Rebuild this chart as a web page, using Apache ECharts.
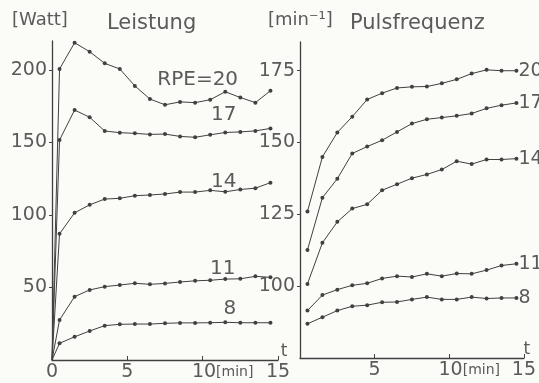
<!DOCTYPE html>
<html>
<head>
<meta charset="utf-8">
<script src="https://cdn.jsdelivr.net/npm/echarts@6/dist/echarts.min.js"></script>
<style>
  html, body { margin: 0; padding: 0; background: #fbfbf8; }
  #chart { width: 539px; height: 383px; }
</style>
</head>
<body>
<div id="chart"></div>
<script>
// time of each measurement (min)
const minutes = [0.5, 1.5, 2.5, 3.5, 4.5, 5.5, 6.5, 7.5, 8.5, 9.5, 10.5, 11.5, 12.5, 13.5, 14.5];
const origin = [0, 0];
const rpeLevels = ['20', '17', '14', '11', '8'];

// Leistung [Watt]
const leistung20 = [200.7, 218.8, 212.6, 204.6, 200.7, 189, 180, 176, 178, 177.5, 179.5, 185, 181, 177.5, 185.7];
const leistung17 = [151.7, 172.4, 167.4, 157.9, 156.8, 156.3, 155.6, 155.8, 154.2, 153.6, 155.3, 156.9, 157.3, 158, 159.7];
const leistung14 = [87, 101.5, 107, 111, 111.5, 113.3, 113.8, 114.5, 115.8, 115.8, 117, 116, 117.6, 118.5, 122.3];
const leistung11 = [27.6, 43.7, 48.3, 50.6, 51.7, 52.9, 52.2, 52.8, 53.8, 54.6, 55, 55.8, 56, 57.7, 57];
const leistung8 = [11.5, 16, 20, 23.7, 24.6, 24.8, 24.8, 25.3, 25.6, 25.6, 25.7, 26, 25.7, 25.7, 25.7];

// Pulsfrequenz [min-1]
const puls20 = [126, 145, 153.5, 159, 165, 167.2, 169, 169.4, 169.5, 170.6, 172, 174, 175.3, 175, 175];
const puls17 = [112.6, 130.8, 137.4, 146.2, 148.6, 150.8, 153.7, 156.6, 158.1, 158.7, 159.3, 160.1, 161.9, 163, 163.8];
const puls14 = [100.8, 115.1, 122.4, 127, 128.5, 133.4, 135.5, 137.6, 138.9, 140.6, 143.5, 142.5, 144.1, 144.1, 144.4];
const puls11 = [91.5, 96.9, 98.8, 100.3, 101, 102.7, 103.5, 103.2, 104.3, 103.5, 104.4, 104.3, 105.6, 107.2, 107.8];
const puls8 = [86.9, 89.2, 91.5, 93, 93.4, 94.4, 94.5, 95.4, 96.2, 95.4, 95.4, 96.2, 95.7, 95.9, 95.9];

const leistungTicks = [50, 100, 150, 200];
const pulsTicks = [100, 125, 150, 175];
const leistungTimeTicks = [0, 5, 10, 15];
const pulsTimeTicks = [5, 10, 15];

// where the curve names sit in the left panel (data units)
const leistungLabelAt = [[9.67, 193], [11.4, 169], [11.4, 122.8], [11.33, 62.8], [11.8, 35.2]];

const ink = '#404040';
const textInk = '#5a5a5a';
const font = 'DejaVu Sans, Liberation Sans, sans-serif';

const leistung = [leistung20, leistung17, leistung14, leistung11, leistung8];
const puls = [puls20, puls17, puls14, puls11, puls8];

function points(values, withOrigin) {
  const list = minutes.map((t, i) => [t, values[i]]);
  if (withOrigin) list.unshift({ value: origin, symbol: 'none' });
  return list;
}

const lineStyle = { color: ink, width: 1 };
const itemStyle = { color: ink };

const series = [];
leistung.forEach((values, k) => {
  series.push({
    name: 'L' + rpeLevels[k],
    type: 'line',
    xAxisIndex: 0,
    yAxisIndex: 0,
    data: points(values, true),
    symbol: 'circle',
    symbolSize: 4,
    lineStyle: lineStyle,
    itemStyle: itemStyle,
    markPoint: {
      symbol: 'circle',
      symbolSize: 1,
      itemStyle: { color: 'transparent' },
      label: {
        show: true,
        position: 'inside',
        color: textInk,
        fontFamily: font,
        fontSize: 20,
        formatter: k === 0 ? 'RPE=' + rpeLevels[k] : rpeLevels[k],
      },
      data: [{ coord: leistungLabelAt[k] }],
    },
  });
});
puls.forEach((values, k) => {
  series.push({
    name: 'P' + rpeLevels[k],
    type: 'line',
    xAxisIndex: 1,
    yAxisIndex: 1,
    data: points(values, false),
    symbol: 'circle',
    symbolSize: 4,
    lineStyle: lineStyle,
    itemStyle: itemStyle,
    endLabel: {
      show: true,
      distance: 2,
      color: textInk,
      fontFamily: font,
      fontSize: 19,
      formatter: rpeLevels[k],
    },
  });
});

function timeAxis(gridIndex, ticks, gap) {
  return {
    type: 'value',
    gridIndex: gridIndex,
    min: 0,
    max: 15,
    name: 't',
    nameLocation: 'end',
    nameGap: gap,
    nameTextStyle: { color: textInk, fontFamily: font, fontSize: 17, align: 'center', verticalAlign: 'bottom' },
    axisLine: { lineStyle: { color: ink, width: 1.3 } },
    axisTick: { inside: true, length: 4, customValues: ticks, lineStyle: { color: ink } },
    splitLine: { show: false },
    axisLabel: {
      customValues: ticks,
      margin: 3,
      color: textInk,
      formatter: (v) => (v === 10 ? '{pad|}{n|10}{u|[min]}' : '{n|' + v + '}'),
      rich: {
        n: { fontFamily: font, fontSize: 19, color: textInk },
        u: { fontFamily: font, fontSize: 14, color: textInk },
        pad: { width: 40 },
      },
    },
  };
}

function valueAxis(gridIndex, min, max, ticks) {
  return {
    type: 'value',
    gridIndex: gridIndex,
    min: min,
    max: max,
    axisLine: { show: true, lineStyle: { color: ink, width: 1.3 } },
    axisTick: { show: true, length: 3, customValues: ticks, lineStyle: { color: ink } },
    splitLine: { show: false },
    axisLabel: {
      customValues: ticks,
      margin: 5,
      color: textInk,
      fontFamily: font,
      fontSize: 19,
    },
  };
}

const myChart = echarts.init(document.getElementById('chart'));
myChart.setOption({
  animation: false,
  backgroundColor: '#fbfbf8',
  title: [
    { text: '[Watt]', left: 12, top: 11, padding: 0, textStyle: { color: textInk, fontFamily: font, fontSize: 18, fontWeight: 'normal' } },
    { text: 'Leistung', left: 107, top: 13, padding: 0, textStyle: { color: textInk, fontFamily: font, fontSize: 21, fontWeight: 'normal' } },
    { text: '[min⁻¹]', left: 268, top: 11, padding: 0, textStyle: { color: textInk, fontFamily: font, fontSize: 18, fontWeight: 'normal' } },
    { text: 'Pulsfrequenz', left: 350, top: 13, padding: 0, textStyle: { color: textInk, fontFamily: font, fontSize: 21, fontWeight: 'normal' } },
  ],
  grid: [
    { left: 52, top: 41, width: 226, height: 319 },
    { left: 300, top: 42, width: 225, height: 316 },
  ],
  xAxis: [timeAxis(0, leistungTimeTicks, 6), timeAxis(1, pulsTimeTicks, 3)],
  yAxis: [valueAxis(0, 0, 220, leistungTicks), valueAxis(1, 75, 185, pulsTicks)],
  series: series,
});
</script>
</body>
</html>
